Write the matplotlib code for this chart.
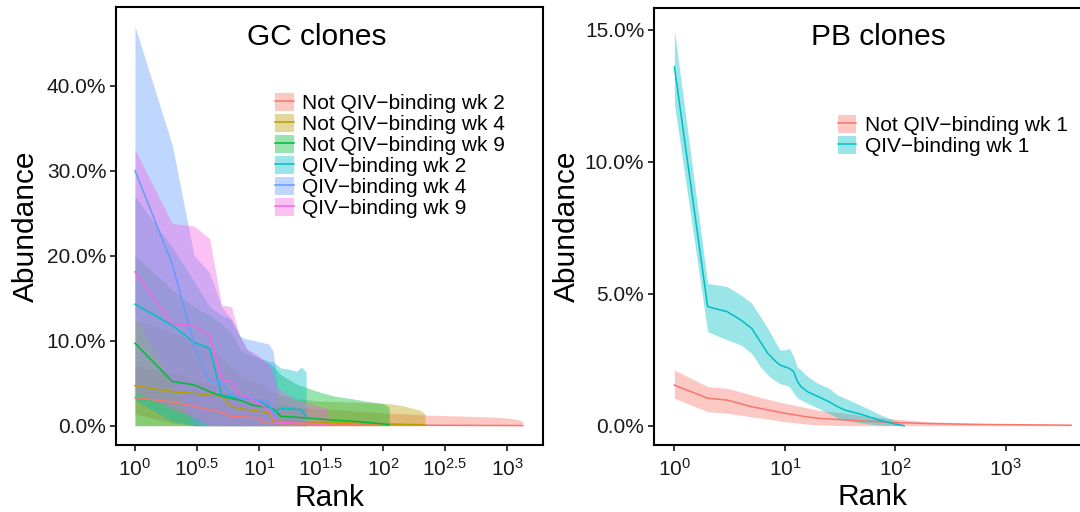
import numpy as np
import matplotlib
matplotlib.use("Agg")
import matplotlib.pyplot as plt
from matplotlib.patches import Patch
from matplotlib.lines import Line2D

plt.rcParams["font.family"] = ["Liberation Sans", "DejaVu Sans"]
plt.rcParams["mathtext.default"] = "regular"

# ============================================================
# Data (abundance in %)
# ============================================================

# GC clones
gc_labels = ["Not QIV\u2212binding wk 2", "Not QIV\u2212binding wk 4", "Not QIV\u2212binding wk 9",
             "QIV\u2212binding wk 2", "QIV\u2212binding wk 4", "QIV\u2212binding wk 9"]
gc_colors = ["#F8766D", "#B79F00", "#00BA38", "#00BFC4", "#619CFF", "#F564E3"]

not_wk2_rank = [1, 2, 3, 4, 5, 6, 8, 10, 11, 15, 20, 30, 50, 80, 100, 150, 218, 300, 500, 800, 1000, 1200, 1340]
not_wk2_mean = [3.3, 2.8, 2.3, 1.9, 1.6, 1.1, 1.0, 0.9, 0.3, 0.25, 0.22, 0.18, 0.15, 0.12, 0.1, 0.08, 0.06, 0.05, 0.04, 0.03, 0.02, 0.02, 0.02]
not_wk2_lo = [1.4, 0.3, 0, 0, 0, 0, 0, 0, 0, 0, 0, 0, 0, 0, 0, 0, 0, 0, 0, 0, 0, 0, 0]
not_wk2_hi = [7.0, 6.2, 5.5, 5.0, 4.5, 4.0, 3.5, 3.0, 2.8, 2.5, 2.2, 2.0, 1.8, 1.6, 1.5, 1.4, 1.25, 1.2, 1.1, 1.0, 0.9, 0.75, 0.5]

not_wk4_rank = [1, 2, 3, 4, 5, 6, 8, 10, 12, 13, 15, 20, 30, 50, 80, 112, 150, 200, 218]
not_wk4_mean = [4.7, 4.0, 3.8, 3.6, 3.5, 2.2, 1.9, 1.7, 1.5, 0.6, 0.5, 0.45, 0.4, 0.35, 0.25, 0.2, 0.15, 0.12, 0.1]
not_wk4_lo = [0] * 19
not_wk4_hi = [12.5, 11.0, 10.0, 9.0, 8.0, 7.0, 5.5, 5.0, 4.5, 4.0, 3.6, 3.2, 2.9, 2.8, 2.7, 2.6, 2.3, 1.8, 1.4]

not_wk9_rank = [1, 2, 3, 4, 5, 6, 7, 8, 9, 10, 13, 15, 20, 30, 40, 60, 80, 100, 112]
not_wk9_mean = [9.7, 5.2, 4.8, 4.0, 3.5, 3.2, 3.0, 2.7, 2.4, 2.3, 2.0, 1.1, 1.0, 0.8, 0.65, 0.5, 0.35, 0.2, 0.1]
not_wk9_lo = [0] * 19
not_wk9_hi = [20.0, 16.0, 14.0, 13.0, 12.0, 11.0, 9.0, 8.5, 8.2, 8.0, 7.0, 6.0, 4.9, 4.0, 3.5, 3.1, 2.8, 2.6, 2.2]

qiv_wk2_rank = [1, 2, 3, 4, 5, 6, 8, 10, 12, 13, 15, 18, 20, 22, 24]
qiv_wk2_mean = [14.3, 11.8, 9.8, 9.1, 3.6, 3.4, 3.2, 3.0, 2.2, 1.6, 2.0, 2.0, 1.9, 1.9, 1.0]
qiv_wk2_lo = [3.0, 0.5, 0, 0, 0, 0, 0, 0, 0, 0, 0, 0, 0, 0, 0]
qiv_wk2_hi = [27.0, 21.0, 17.0, 14.0, 13.0, 12.5, 9.0, 8.0, 7.6, 7.5, 6.8, 6.6, 6.4, 6.9, 6.3]

qiv_wk4_rank = [1, 2, 3, 4, 5, 6, 7, 8, 10, 12, 13, 14]
qiv_wk4_mean = [30.0, 19.0, 9.5, 5.2, 5.1, 3.6, 3.3, 3.2, 3.0, 2.8, 1.5, 0.5]
qiv_wk4_lo = [13.0, 5.0, 0, 0, 0, 0, 0, 0, 0, 0, 0, 0]
qiv_wk4_hi = [47.0, 33.0, 20.0, 18.0, 14.0, 12.5, 10.5, 10.2, 9.9, 9.6, 8.8, 5.0]

qiv_wk9_rank = [1, 2, 3, 4, 5, 6, 7, 8, 10, 12, 13, 14, 20, 28, 36]
qiv_wk9_mean = [18.1, 12.0, 11.8, 10.6, 5.4, 5.2, 3.6, 3.4, 2.6, 1.9, 1.0, 0.4, 0.3, 0.25, 0.2]
qiv_wk9_lo = [4.0, 2.0, 1.0, 0, 0, 0, 0, 0, 0, 0, 0, 0, 0, 0, 0]
qiv_wk9_hi = [32.5, 23.8, 23.5, 22.0, 14.2, 14.0, 10.5, 9.0, 8.2, 7.2, 6.0, 4.5, 3.0, 2.5, 2.0]

# PB clones
pb_labels = ["Not QIV\u2212binding wk 1", "QIV\u2212binding wk 1"]
pb_colors = ["#F8766D", "#00BFC4"]

pb_not_rank = [1, 2, 3, 5, 7, 10, 15, 20, 35, 50, 100, 200, 500, 1000, 2000, 3890]
pb_not_mean = [1.54, 1.04, 0.97, 0.72, 0.6, 0.47, 0.35, 0.28, 0.22, 0.18, 0.12, 0.08, 0.05, 0.04, 0.03, 0.02]
pb_not_lo = [1.04, 0.53, 0.47, 0.34, 0.25, 0.15, 0.07, 0.03, 0, 0, 0, 0, 0, 0, 0, 0]
pb_not_hi = [2.11, 1.48, 1.42, 1.16, 1.0, 0.85, 0.7, 0.59, 0.47, 0.38, 0.25, 0.15, 0.1, 0.07, 0.05, 0.03]

pb_qiv_rank = [1, 2, 3, 4, 5, 6, 7, 8, 9, 10, 11, 12, 13, 14, 16, 20, 25, 30, 35, 50, 70, 100, 120]
pb_qiv_mean = [13.6, 4.51, 4.32, 4.0, 3.69, 3.18, 2.74, 2.49, 2.30, 2.23, 2.17, 2.05, 1.67, 1.48, 1.29, 1.10, 0.91, 0.72, 0.59, 0.42, 0.22, 0.06, 0.0]
pb_qiv_lo = [12.2, 3.56, 3.25, 3.06, 2.74, 2.23, 1.92, 1.73, 1.6, 1.54, 1.48, 1.23, 1.05, 0.97, 0.85, 0.66, 0.47, 0.28, 0.2, 0.1, 0.02, 0, 0]
pb_qiv_hi = [14.99, 5.39, 5.27, 4.95, 4.64, 4.13, 3.69, 3.25, 2.87, 2.87, 2.93, 2.61, 2.2, 2.11, 1.86, 1.6, 1.42, 1.16, 1.04, 0.75, 0.45, 0.18, 0.02]

gc_series = [
    (not_wk2_rank, not_wk2_mean, not_wk2_lo, not_wk2_hi),
    (not_wk4_rank, not_wk4_mean, not_wk4_lo, not_wk4_hi),
    (not_wk9_rank, not_wk9_mean, not_wk9_lo, not_wk9_hi),
    (qiv_wk2_rank, qiv_wk2_mean, qiv_wk2_lo, qiv_wk2_hi),
    (qiv_wk4_rank, qiv_wk4_mean, qiv_wk4_lo, qiv_wk4_hi),
    (qiv_wk9_rank, qiv_wk9_mean, qiv_wk9_lo, qiv_wk9_hi),
]
pb_series = [
    (pb_not_rank, pb_not_mean, pb_not_lo, pb_not_hi),
    (pb_qiv_rank, pb_qiv_mean, pb_qiv_lo, pb_qiv_hi),
]

gc_xticks = [0, 0.5, 1, 1.5, 2, 2.5, 3]
pb_xticks = [0, 1, 2, 3]
gc_yticks = [0, 10, 20, 30, 40]
pb_yticks = [0, 5, 10, 15]

# ============================================================
# Plot
# ============================================================

fig = plt.figure(figsize=(10.8, 5.12), dpi=100)
ax1 = fig.add_axes([0.1074, 0.1309, 0.3951, 0.8561])
ax2 = fig.add_axes([0.6056, 0.1309, 0.4046, 0.8529])


def draw_panel(ax, series, colors):
    for (r, m, lo, hi), c in zip(series, colors):
        ax.fill_between(r, lo, hi, color=c, alpha=0.4, lw=0)
    for (r, m, lo, hi), c in zip(series, colors):
        ax.plot(r, m, color=c, lw=1.1)


def style_panel(ax, xticks, yticks, xlim, ylim, title, title_pos):
    ax.set_xscale("log")
    ax.set_xlim(10 ** xlim[0], 10 ** xlim[1])
    ax.set_ylim(ylim)
    ax.set_xticks([10 ** t for t in xticks])
    ax.set_xticklabels([f"$10^{{{t:g}}}$" for t in xticks])
    ax.minorticks_off()
    ax.set_yticks(yticks)
    ax.set_yticklabels([f"{v:.1f}%" for v in yticks])
    ax.tick_params(axis="both", labelsize=15, length=4, width=1.1,
                   color="black", labelcolor="#1a1a1a")
    ax.tick_params(axis="x", pad=5)
    ax.tick_params(axis="y", pad=3)
    for s in ax.spines.values():
        s.set_linewidth(1.5)
        s.set_color("black")
    ax.set_xlabel("Rank", fontsize=21.5)
    ax.set_ylabel("Abundance", fontsize=21.5)
    ax.xaxis.set_label_coords(0.5, -0.088)
    ax.text(title_pos[0], title_pos[1], title, transform=ax.transAxes,
            ha="center", va="center", fontsize=21.5)


draw_panel(ax1, gc_series, gc_colors)
style_panel(ax1, gc_xticks, gc_yticks, (-0.153, 3.288), (-2.27, 49.3), "GC clones", (0.471, 0.931))
ax1.yaxis.set_label_coords(-0.178, 0.5)

draw_panel(ax2, pb_series, pb_colors)
style_panel(ax2, pb_xticks, pb_yticks, (-0.184, 3.77), (-0.73, 15.81), "PB clones", (0.513, 0.934))
ax2.yaxis.set_label_coords(-0.167, 0.5)

# Legends: filled key with line through it
def legend_handles(colors):
    return [(Patch(facecolor=c, alpha=0.4, edgecolor="none"), Line2D([], [], color=c, lw=1.1))
            for c in colors]


leg_kw = dict(loc="upper left", frameon=False, fontsize=15, borderpad=0, labelspacing=0.04,
              handlelength=0.9, handleheight=0.95, handletextpad=0.4, borderaxespad=0)
ax1.legend(legend_handles(gc_colors), gc_labels, bbox_to_anchor=(0.3726, 0.8024), **leg_kw)
ax2.legend(legend_handles(pb_colors), pb_labels, bbox_to_anchor=(0.420, 0.7557), **leg_kw)

plt.savefig("out.png", dpi=100)
